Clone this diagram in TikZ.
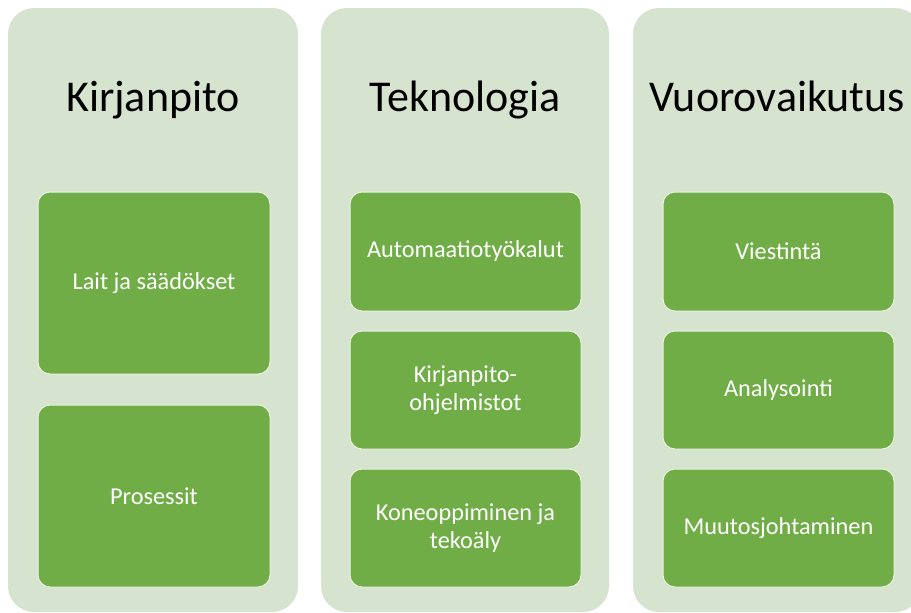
\documentclass[tikz,border=0pt]{standalone}
\usepackage{fontspec}
\setmainfont{Carlito}
\definecolor{panelgreen}{HTML}{D6E3CE}
\definecolor{boxgreen}{HTML}{70AD47}
\tikzset{
  panel/.style={rectangle, rounded corners=26pt, fill=panelgreen, draw=none, inner sep=0pt},
  itembox/.style={rectangle, rounded corners=12pt, fill=boxgreen, draw=white!85!boxgreen, line width=1pt,
    minimum width=231pt, text=white, align=center, font=\fontsize{24.3}{28}\selectfont, inner sep=0pt},
  title/.style={text=black, font=\fontsize{44}{50}\selectfont, inner sep=0pt, anchor=base}
}
\begin{document}
\begin{tikzpicture}[x=1pt,y=-1pt]
\useasboundingbox (0,0) rectangle (911,613);
\clip (0,0) rectangle (911,613);
\fill[white] (0,0) rectangle (911,613);
% panels
\node[panel, minimum width=290pt, minimum height=604pt] (p1) at (153,310) {};
\node[panel, minimum width=288pt, minimum height=604pt] (p2) at (465,310) {};
\node[panel, minimum width=288pt, minimum height=604pt] (p3) at (777,310) {};
% titles
\node[title] (t1) at (153,111) {Kirjanpito};
\node[title] (t2) at (465,111) {Teknologia};
\node[title] (t3) at (777,111) {Vuorovaikutus};
% column 1
\node[itembox, minimum width=232pt, minimum height=182pt] (b11) at (154,283) {Lait ja säädökset};
\node[itembox, minimum width=232pt, minimum height=182pt] (b12) at (154,496) {Prosessit};
% column 2
\node[itembox, minimum height=119pt] (b21) at (465.5,251.5) {Automaatiotyökalut};
\node[itembox, minimum height=118pt] (b22) at (465.5,390) {Kirjanpito-\\ohjelmistot};
\node[itembox, minimum height=118pt] (b23) at (465.5,528) {Koneoppiminen ja\\tekoäly};
% column 3
\node[itembox, minimum height=119pt] (b31) at (778.5,251.5) {Viestintä};
\node[itembox, minimum height=118pt] (b32) at (778.5,390) {Analysointi};
\node[itembox, minimum height=118pt] (b33) at (778.5,528) {Muutosjohtaminen};
\end{tikzpicture}
\end{document}
